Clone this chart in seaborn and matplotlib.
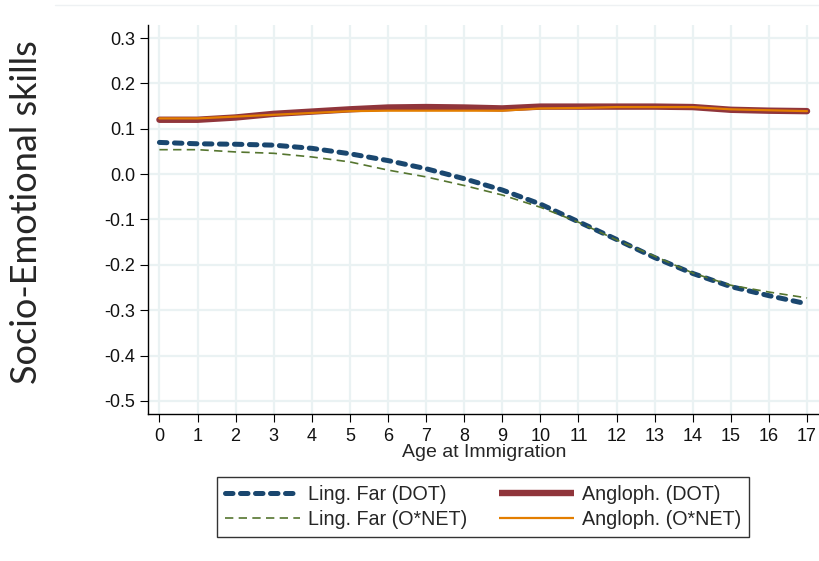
import numpy as np
import pandas as pd
import matplotlib
matplotlib.use("Agg")
import matplotlib.pyplot as plt
import seaborn as sns
from matplotlib.lines import Line2D

# ---- data ----
ages = list(range(18))
ling_far_dot = [0.070, 0.067, 0.066, 0.064, 0.057, 0.045, 0.030, 0.012, -0.010, -0.035,
                -0.066, -0.105, -0.144, -0.184, -0.219, -0.248, -0.268, -0.286]
ling_far_onet = [0.054, 0.054, 0.049, 0.046, 0.038, 0.027, 0.009, -0.006, -0.025, -0.046,
                 -0.073, -0.106, -0.145, -0.181, -0.218, -0.245, -0.260, -0.273]
angloph_dot = [0.120, 0.120, 0.125, 0.133, 0.138, 0.143, 0.147, 0.148, 0.147, 0.145,
               0.149, 0.149, 0.149, 0.149, 0.148, 0.142, 0.140, 0.139]
angloph_onet = [0.123, 0.123, 0.127, 0.131, 0.135, 0.139, 0.140, 0.140, 0.140, 0.140,
                0.145, 0.146, 0.148, 0.148, 0.148, 0.143, 0.141, 0.139]
labels = ["Ling. Far (DOT)", "Ling. Far (O*NET)", "Angloph. (DOT)", "Angloph. (O*NET)"]
xticks = list(range(18))
yticks = [-0.5, -0.4, -0.3, -0.2, -0.1, 0.0, 0.1, 0.2, 0.3]

df = pd.DataFrame({
    "age": ages * 4,
    "value": ling_far_dot + ling_far_onet + angloph_dot + angloph_onet,
    "series": sum([[l] * len(ages) for l in labels], []),
})

sns.set_theme(style="white")
plt.rcParams["font.family"] = ["Liberation Sans", "DejaVu Sans"]

fig = plt.figure(figsize=(8.2, 5.61), dpi=100)
ax = fig.add_axes([148 / 820, 1 - 414 / 561, 1 - 148 / 820, (414 - 25) / 561])

navy = "#1A476F"
maroon = "#90353B"
green = "#55752F"
orange = "#E37E00"

styles = {
    labels[2]: dict(color=maroon, lw=4.6, ls="-", z=2),
    labels[3]: dict(color=orange, lw=1.6, ls="-", z=3),
    labels[0]: dict(color=navy, lw=3.6, ls=(0, (1.5, 1.5)), z=4),
    labels[1]: dict(color=green, lw=1.2, ls=(0, (5.0, 3.2)), z=5),
}

handles = {}
for lab in [labels[2], labels[3], labels[0], labels[1]]:
    st = styles[lab]
    sub = df[df["series"] == lab]
    sns.lineplot(data=sub, x="age", y="value", ax=ax, color=st["color"],
                 linewidth=st["lw"], linestyle=st["ls"], zorder=st["z"],
                 legend=False)
    line = ax.lines[-1]
    if lab == labels[0]:
        line.set_dash_capstyle("round")
    line.set_solid_capstyle("round")
    handles[lab] = Line2D([], [], color=st["color"], lw=st["lw"], ls=st["ls"],
                          dash_capstyle="round" if lab == labels[0] else "butt",
                          solid_capstyle="butt")

ax.set_xlim(-0.30, 17.34)
ax.set_ylim(-0.529, 0.329)
ax.set_xticks(xticks)
ax.set_yticks(yticks)
ax.set_xticklabels([str(t) for t in xticks], fontsize=13)
ax.set_yticklabels([f"{t:.1f}" for t in yticks], fontsize=13)
ax.grid(True, color="#EAF2F3", lw=1.6)
ax.set_axisbelow(True)
for s in ["top", "right"]:
    ax.spines[s].set_visible(False)
for s in ["left", "bottom"]:
    ax.spines[s].set_color("black")
    ax.spines[s].set_linewidth(1.0)
ax.tick_params(axis="x", which="major", length=6, width=0.8, color="black",
               direction="out", pad=4, bottom=True, labelcolor="#111111")
ax.tick_params(axis="y", which="major", length=6, width=0.8, color="black",
               direction="out", pad=3, left=True, labelcolor="#111111")
ax.set_xlabel("Age at Immigration", fontsize=14)
ax.xaxis.set_label_coords(0.5, -(444 - 414) / 389)
ax.set_ylabel("")

fig.text(27 / 820, 1 - 212 / 561, "Socio-Emotional skills", rotation=90,
         ha="center", va="center", fontsize=26, family=["Lato", "DejaVu Sans"])

# faint outer region border
fig.add_artist(Line2D([55 / 820, 1.0], [1 - 5 / 561, 1 - 5 / 561],
                      transform=fig.transFigure, color="#EEF1F3", lw=1))

leg = fig.legend([handles[l] for l in labels], labels, ncol=2, loc="center",
                 bbox_to_anchor=(483 / 820, 1 - 507 / 561), fontsize=14.2,
                 frameon=True, fancybox=False, edgecolor="black",
                 handlelength=3.8, handletextpad=0.4, columnspacing=1.6,
                 labelspacing=0.3, borderpad=0.4)
leg.get_frame().set_linewidth(1.0)

fig.savefig("out.png", dpi=100)
